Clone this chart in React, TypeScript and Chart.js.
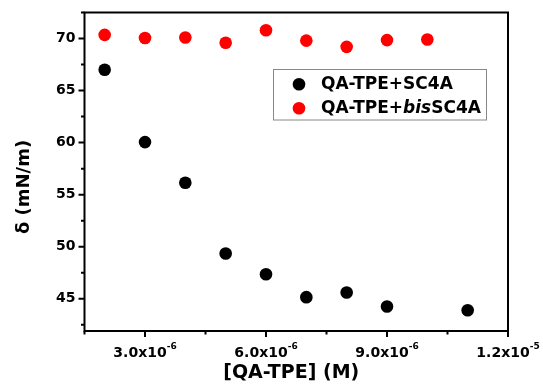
import React, { useEffect, useRef } from "react";
import { Chart, registerables } from "chart.js";

Chart.register(...registerables);

// ---- data ----
const sc4aX = [2e-6, 3e-6, 4e-6, 5e-6, 6e-6, 7e-6, 8e-6, 9e-6, 11e-6];
const sc4aY = [67.0, 60.05, 56.15, 49.35, 47.35, 45.15, 45.6, 44.25, 43.9];
const bisX = [2e-6, 3e-6, 4e-6, 5e-6, 6e-6, 7e-6, 8e-6, 9e-6, 10e-6];
const bisY = [70.35, 70.05, 70.1, 69.6, 70.8, 69.8, 69.2, 69.85, 69.9];

const xMajorTicks = [3e-6, 6e-6, 9e-6, 1.2e-5];
const xTickBases = ["3.0x10", "6.0x10", "9.0x10", "1.2x10"];
const xTickExps = ["-6", "-6", "-6", "-5"];
const xMinorTicks = [1.5e-6, 4.5e-6, 7.5e-6, 1.05e-5];
const yMajorTicks = [45, 50, 55, 60, 65, 70];
const yMinorTicks = [42.5, 47.5, 52.5, 57.5, 62.5, 67.5, 72.5];

const xTitle = "[QA-TPE] (M)";
const yTitle = "δ (mN/m)";
const legendLabel1 = "QA-TPE+SC4A";
const legendLabel2Parts = ["QA-TPE+", "bis", "SC4A"];

const FONT = "'DejaVu Sans', 'Liberation Sans', Arial, sans-serif";

const decorPlugin = {
  id: "decor",
  afterDraw(chart: any) {
    const ctx = chart.ctx as CanvasRenderingContext2D;
    const xs = chart.scales.x;
    const ys = chart.scales.y;
    const a = chart.chartArea;
    ctx.save();
    ctx.strokeStyle = "#000";
    ctx.fillStyle = "#000";
    ctx.lineWidth = 2;
    // frame
    ctx.strokeRect(a.left, a.top, a.right - a.left, a.bottom - a.top);
    // y ticks
    ctx.beginPath();
    yMajorTicks.forEach((v) => {
      const y = ys.getPixelForValue(v);
      ctx.moveTo(a.left - 6, y);
      ctx.lineTo(a.left, y);
    });
    yMinorTicks.forEach((v) => {
      const y = ys.getPixelForValue(v);
      ctx.moveTo(a.left - 3.5, y);
      ctx.lineTo(a.left, y);
    });
    xMajorTicks.forEach((v) => {
      const x = xs.getPixelForValue(v);
      ctx.moveTo(x, a.bottom);
      ctx.lineTo(x, a.bottom + 6);
    });
    xMinorTicks.forEach((v) => {
      const x = xs.getPixelForValue(v);
      ctx.moveTo(x, a.bottom);
      ctx.lineTo(x, a.bottom + 3.5);
    });
    ctx.stroke();

    // y tick labels
    ctx.font = `bold 14px ${FONT}`;
    ctx.textAlign = "right";
    ctx.textBaseline = "middle";
    yMajorTicks.forEach((v) => {
      ctx.fillText(String(v), a.left - 9, ys.getPixelForValue(v));
    });

    // x tick labels with superscript
    ctx.textBaseline = "alphabetic";
    ctx.textAlign = "left";
    xMajorTicks.forEach((v, i) => {
      const x = xs.getPixelForValue(v);
      ctx.font = `bold 14px ${FONT}`;
      const wb = ctx.measureText(xTickBases[i]).width;
      ctx.font = `bold 9px ${FONT}`;
      const we = ctx.measureText(xTickExps[i]).width;
      const start = x - (wb + we) / 2;
      ctx.font = `bold 14px ${FONT}`;
      ctx.fillText(xTickBases[i], start, a.bottom + 26);
      ctx.font = `bold 9px ${FONT}`;
      ctx.fillText(xTickExps[i], start + wb, a.bottom + 17.5);
    });

    // axis titles
    ctx.font = `bold 19px ${FONT}`;
    ctx.textAlign = "center";
    ctx.textBaseline = "middle";
    ctx.fillText(xTitle, (a.left + a.right) / 2 + (291 - 296), 373);
    ctx.save();
    ctx.translate(24, 187);
    ctx.rotate(-Math.PI / 2);
    ctx.font = `bold 18px ${FONT}`;
    ctx.fillText(yTitle, 0, 0);
    ctx.restore();

    // legend
    const lx = 273.5, ly = 69.5, lw = 213, lh = 50.5;
    ctx.fillStyle = "#fff";
    ctx.fillRect(lx, ly, lw, lh);
    ctx.strokeStyle = "#888";
    ctx.lineWidth = 1;
    ctx.strokeRect(lx, ly, lw, lh);
    const ds = chart.data.datasets;
    const rows = [84.3, 108.3];
    rows.forEach((ry, i) => {
      ctx.fillStyle = ds[i].backgroundColor;
      ctx.beginPath();
      ctx.arc(299, ry, 6.3, 0, Math.PI * 2);
      ctx.fill();
    });
    ctx.fillStyle = "#000";
    ctx.textAlign = "left";
    ctx.textBaseline = "middle";
    ctx.font = `bold 17px ${FONT}`;
    ctx.fillText(legendLabel1, 321, rows[0]);
    let cx = 321;
    legendLabel2Parts.forEach((p, i) => {
      ctx.font = i === 1 ? `italic bold 17px ${FONT}` : `bold 17px ${FONT}`;
      ctx.fillText(p, cx, rows[1]);
      cx += ctx.measureText(p).width;
    });
    ctx.restore();
  },
};

export default function App() {
  const ref = useRef<HTMLCanvasElement>(null);
  useEffect(() => {
    document.body.style.margin = "0";
    const chart = new Chart(ref.current!, {
      type: "scatter",
      data: {
        datasets: [
          {
            label: legendLabel1,
            data: sc4aX.map((x, i) => ({ x, y: sc4aY[i] })),
            backgroundColor: "#000000",
            borderWidth: 0,
            pointRadius: 6.3,
          },
          {
            label: legendLabel2Parts.join(""),
            data: bisX.map((x, i) => ({ x, y: bisY[i] })),
            backgroundColor: "#ff0000",
            borderWidth: 0,
            pointRadius: 6.3,
          },
        ],
      },
      options: {
        responsive: false,
        animation: false,
        layout: { padding: { left: 84.5, right: 35, top: 12.5, bottom: 59 } },
        plugins: { legend: { display: false }, tooltip: { enabled: false } },
        scales: {
          x: { type: "linear", display: false, min: 1.5e-6, max: 1.2e-5 },
          y: { type: "linear", display: false, min: 41.9, max: 72.5 },
        },
      },
      plugins: [decorPlugin],
    });
    return () => chart.destroy();
  }, []);
  return <canvas ref={ref} width={543} height={390} style={{ display: "block" }} />;
}
